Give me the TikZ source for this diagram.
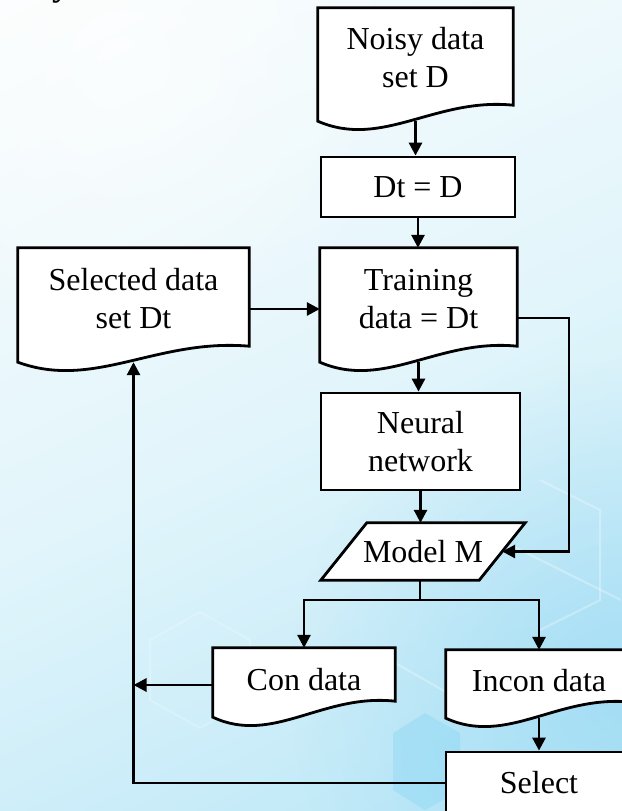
\documentclass[tikz,border=0pt]{standalone}
\usepackage{fontspec}
\setmainfont{Liberation Serif}
\usetikzlibrary{arrows.meta,calc,fadings}
\pgfdeclarelayer{bg}
\pgfdeclarelayer{shapes}
\pgfsetlayers{bg,shapes,main}
\definecolor{bgtop}{RGB}{254,254,254}
\definecolor{bgmid}{RGB}{226,245,251}
\definecolor{bgbot}{RGB}{178,228,246}
\definecolor{bgblue}{RGB}{140,212,242}
\definecolor{hexblue}{RGB}{120,210,245}
\tikzfading[name=softdisc, inner color=transparent!0, outer color=transparent!100]
\tikzset{
  lbl/.style={font=\fontsize{32}{38}\selectfont, align=center, inner sep=0pt},
  docnode/.style={lbl, draw=none, minimum width=#1},
  boxnode/.style={lbl, draw, line width=2.8pt, fill=white},
  conn/.style={line width=2.8pt, -{Triangle[length=13pt,width=13pt]}},
  plainline/.style={line width=2.8pt},
  outline/.style={line width=2.8pt, fill=white, line join=miter},
  hexline/.style={white, line width=2pt, opacity=0.3},
}
\newcommand\mydoc[1]{%
  \draw[outline] (#1.south west) -- (#1.north west) -- (#1.north east)
    -- ($(#1.south east)+(0,-16)$)
    .. controls ($(#1.south west)!0.6!(#1.south east)+(0,-24)$)
    and ($(#1.south west)!0.33!(#1.south east)+(0,28)$) .. (#1.south west) -- cycle;}
\begin{document}
\begin{tikzpicture}[x=1pt,y=-1pt]
\useasboundingbox (0,0) rectangle (621,811);
% nodes
\node[docnode=195, text height=79pt, text depth=34pt] (noisy) at (415.5,64.5) {Noisy data\\set D};
\node[boxnode, minimum width=194pt, minimum height=60pt] (dt) at (418,187) {Dt = D};
\node[docnode=197, text height=80pt, text depth=34pt] (train) at (418.5,305) {Training\\data = Dt};
\node[docnode=231, text height=80pt, text depth=34pt] (sel) at (133.5,305) {Selected data\\set Dt};
\node[boxnode, minimum width=199pt, minimum height=97pt] (nn) at (420.5,441.5) {Neural\\network};
\node[lbl, minimum width=158pt, minimum height=57pt] (model) at (423,551.5) {Model M};
\node[docnode=182, text height=42pt, text depth=27pt] (con) at (304,682.5) {Con data};
\node[docnode=186, text height=41pt, text depth=27pt] (incon) at (539,684) {Incon data};
\node[boxnode, minimum width=186pt, minimum height=62pt] (select) at (539,783) {Select};
\node[font=\bfseries\fontsize{36}{40}\selectfont, inner sep=0pt, anchor=base west] (frag) at (52,-4.5) {y};
% shapes
\begin{pgfonlayer}{shapes}
  \mydoc{noisy}
  \mydoc{train}
  \mydoc{sel}
  \mydoc{con}
  \mydoc{incon}
  \draw[outline] ($(model.north west)+(23,0)$) -- ($(model.north east)+(23,0)$)
    -- ($(model.south east)+(-23,0)$) -- ($(model.south west)+(-23,0)$) -- cycle;
\end{pgfonlayer}
% background
\begin{pgfonlayer}{bg}
  \shade[top color=bgtop, bottom color=bgbot, middle color=bgmid, shading angle=25] (-200,-200) rectangle (821,1011);
  \fill[bgblue, path fading=softdisc, fill opacity=0.55] (620,690) circle (330);
  \fill[white, path fading=softdisc, fill opacity=0.6] (120,60) circle (300);
  \draw[hexline] (470,255) -- (495,270) -- (495,315) -- (470,330) -- (445,315) -- (445,270) -- cycle;
  \draw[hexline, opacity=0.2] (150,640) -- (200,612) -- (250,640) -- (250,700) -- (200,728) -- (150,700) -- cycle;
  \fill[hexblue, fill opacity=0.3] (425,713) -- (460,733) -- (460,790) -- (425,810) -- (393,790) -- (393,733) -- cycle;
  \draw[hexline] (540,480) -- (600,510) -- (600,600) -- (540,630);
  \draw[white, line width=2pt, opacity=0.3] (390,660) -- (460,700);
  \draw[white, line width=2pt, opacity=0.3] (460,520) -- (621,600);
\end{pgfonlayer}
% connectors
\draw[conn] (noisy.south) -- (noisy.south |- dt.north);
\draw[conn] (dt.south) -- (dt.south |- train.north);
\draw[conn] ([yshift=-4pt]sel.east) -- ([yshift=-4pt]sel.east -| train.west);
\coordinate (rc) at (569,318);
\draw[conn] (train.east |- rc) -- (rc) |- (model.east);
\draw[conn] (train.south) -- (train.south |- nn.north);
\draw[conn] (nn.south) -- (nn.south |- model.north);
\coordinate (sp) at (420,600);
\draw[plainline] (sp |- model.south) -- (sp);
\draw[conn] (sp) -| (con.north);
\draw[conn] (sp) -| (incon.north);
\draw[conn] (incon.south) -- (incon.south |- select.north);
\draw[conn] ([yshift=-2.5pt]con.west) -- ([yshift=-2.5pt]con.west -| sel.south);
\draw[conn] (select.west) -| (sel.south);
\end{tikzpicture}
\end{document}
